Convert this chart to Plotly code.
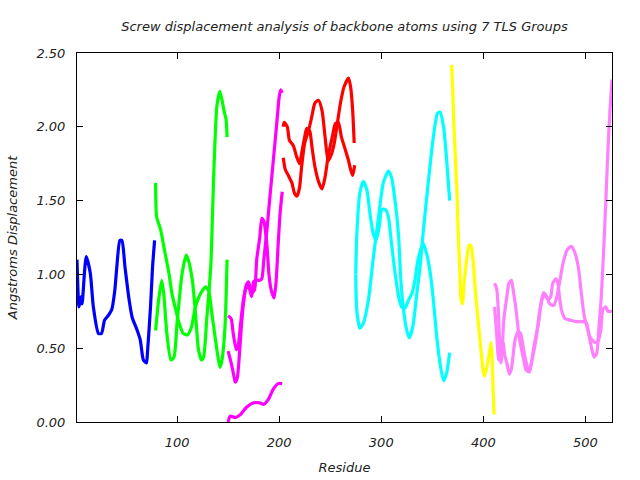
"""
Screw displacement plot - backbone atoms, 7 TLS groups.
Gnuplot-like look rebuilt with Plotly.
"""

import plotly.graph_objects as go

# Palette (gnuplot default line colours)
COLORS = {
    'g1': '#0000FF',
    'g2': '#00FF00',
    'g3': '#FF00FF',
    'g4': '#FF0000',
    'g5': '#00FFFF',
    'g6': '#FFFF00',
    'g7': '#FF80FF',
}

# --- data: residue number / displacement (A) ---

# TLS group 1
G1_RES = [2, 4, 6, 7, 11, 15, 18, 23, 26, 29, 33, 36, 39, 41, 44, 46, 49, 53,
          56, 61, 64, 67, 70, 71, 74, 76, 78]
G1_VAL = [1.10, 0.78, 0.85, 0.80, 1.12, 1.01, 0.78, 0.60, 0.60, 0.69, 0.725,
          0.76, 0.89, 1.05, 1.23, 1.23, 1.05, 0.83, 0.71, 0.62, 0.555, 0.42,
          0.40, 0.47, 0.78, 1.05, 1.23]

# TLS group 2
G2A_RES = [79, 80, 84, 87, 92, 95, 98, 102, 106, 110, 114, 118, 123, 128, 131,
           134, 139, 142, 144, 147, 149]
G2A_VAL = [1.62, 1.39, 1.30, 1.19, 1.01, 0.87, 0.78, 0.67, 0.60, 0.59, 0.64,
           0.78, 0.87, 0.915, 0.89, 0.74, 0.49, 0.37, 0.42, 0.65, 1.10]
G2B_RES = [79, 82, 85, 87, 90, 94, 97, 100, 105, 109, 111, 115, 118, 121, 124,
           126, 129, 133, 136, 139, 142, 146, 148, 149]
G2B_VAL = [0.62, 0.83, 0.96, 0.87, 0.60, 0.42, 0.44, 0.67, 1.01, 1.13, 1.10,
           0.96, 0.74, 0.49, 0.42, 0.44, 0.69, 1.05, 1.69, 2.14, 2.24, 2.11,
           2.05, 1.93]

# TLS group 3
G3A_RES = [150, 153, 155, 158, 160, 162, 165, 168, 170, 173, 176, 178, 181,
           183, 185, 188, 190, 192, 195, 197, 199, 201, 203]
G3A_VAL = [0.72, 0.70, 0.60, 0.49, 0.52, 0.65, 0.83, 0.93, 0.95, 0.87, 0.90,
           1.10, 1.25, 1.38, 1.36, 1.20, 1.00, 0.90, 0.84, 0.95, 1.20, 1.42,
           1.56]
G3B_RES = [150, 153, 156, 157, 159, 161, 163, 165, 168, 171, 173, 175, 178,
           181, 183, 185, 188, 191, 194, 198, 200, 201.5, 203]
G3B_VAL = [0.48, 0.40, 0.30, 0.27, 0.30, 0.45, 0.65, 0.80, 0.92, 0.90, 0.85,
           0.95, 0.96, 0.96, 0.97, 1.10, 1.30, 1.53, 1.75, 2.05, 2.20, 2.25,
           2.23]
G3C_RES = [150, 152, 157, 162, 168, 175, 181, 185, 190, 194, 199, 203]
G3C_VAL = [0.00, 0.04, 0.03, 0.05, 0.10, 0.13, 0.13, 0.12, 0.16, 0.22, 0.26,
           0.26]

# TLS group 4
G4A_RES = [204, 205, 208, 210, 214, 217, 220, 222, 225, 227, 230, 232, 235,
           239, 242, 245, 248, 252, 255, 258, 261, 265, 268, 270, 272, 274]
G4A_VAL = [2.00, 2.03, 2.00, 1.91, 1.87, 1.80, 1.75, 1.82, 1.93, 1.99, 1.97,
           1.87, 1.73, 1.62, 1.58, 1.66, 1.80, 1.93, 2.02, 2.03, 1.93, 1.84,
           1.77, 1.71, 1.67, 1.74]
G4B_RES = [204, 206, 209, 212.5, 215, 217.5, 220, 222, 225, 229, 232, 235,
           238.5, 242, 245, 248, 251.5, 254, 256.5, 260, 263.5, 268, 270,
           272, 273.5]
G4B_VAL = [1.79, 1.71, 1.67, 1.62, 1.55, 1.53, 1.59, 1.73, 1.89, 1.98, 2.07,
           2.16, 2.18, 2.11, 1.93, 1.77, 1.82, 1.89, 2.00, 2.16, 2.27, 2.33,
           2.27, 2.11, 1.89]

# TLS group 5
G5A_RES = [275, 276, 279, 282.5, 286, 289, 292, 295, 298, 300.5, 304, 307,
           310, 313.5, 317, 320, 323, 327, 330, 333, 336, 341, 344.5, 348,
           351, 354, 357.5, 361, 364, 367]
G5A_VAL = [1.00, 1.26, 1.55, 1.63, 1.57, 1.41, 1.28, 1.23, 1.32, 1.44, 1.44,
           1.39, 1.21, 1.01, 0.85, 0.78, 0.77, 0.83, 0.87, 0.96, 1.10, 1.21,
           1.14, 1.01, 0.83, 0.60, 0.40, 0.28, 0.33, 0.47]
G5B_RES = [275, 276, 279, 282.5, 287.5, 292, 297, 302, 307, 310, 313.5, 317,
           319, 321.5, 325, 327.5, 331, 334.5, 338, 341, 346, 351, 355, 357.5,
           361, 364, 367]
G5B_VAL = [1.00, 0.76, 0.635, 0.67, 0.83, 1.10, 1.37, 1.62, 1.70, 1.66, 1.50,
           1.26, 0.98, 0.78, 0.62, 0.57, 0.65, 0.85, 1.05, 1.28, 1.62, 1.93,
           2.09, 2.10, 2.00, 1.78, 1.50]

# TLS group 6
G6_RES = [369, 370, 371, 372.5, 374, 375, 376, 377, 378, 379.5, 381, 383.5,
          386, 388, 390, 392.5, 395, 397.5, 399.5, 401, 403, 405.5, 407.5,
          408.5, 409.5, 410.5]
G6_VAL = [2.42, 2.26, 2.03, 1.81, 1.58, 1.36, 1.18, 1.02, 0.84, 0.80, 0.93,
          1.09, 1.20, 1.19, 1.09, 0.86, 0.68, 0.50, 0.36, 0.31, 0.36, 0.45,
          0.54, 0.45, 0.23, 0.05]

# TLS group 7
G7A_RES = [411, 413, 414.5, 415.5, 416.5, 417.5, 418.5, 420, 423, 425, 427.5,
           429, 432, 435, 439, 442, 445, 447, 450, 454, 457, 459, 462, 465,
           469, 472, 475, 478, 482, 486, 489.5, 493, 496, 499, 502.5, 506,
           508.5, 511, 513, 515.5, 518, 520, 522, 524, 526]
G7A_VAL = [0.94, 0.905, 0.78, 0.62, 0.44, 0.40, 0.49, 0.69, 0.85, 0.94, 0.96,
           0.905, 0.76, 0.58, 0.44, 0.35, 0.34, 0.40, 0.53, 0.67, 0.83, 0.875,
           0.85, 0.80, 0.79, 0.85, 0.96, 1.075, 1.165, 1.19, 1.15, 1.05, 0.87,
           0.71, 0.62, 0.50, 0.44, 0.465, 0.62, 0.85, 1.19, 1.50, 1.84, 2.11,
           2.32]
G7B_RES = [411, 413, 415, 416.5, 418, 419.5, 421, 423, 425.5, 427.5, 431, 434,
           436.5, 439, 442, 445, 449, 452, 455, 458, 460, 463.5, 466, 468,
           471, 473, 474.5, 476.5, 480, 485, 491, 498, 501, 504, 509, 512,
           515, 517, 520, 522, 526]
G7B_VAL = [0.78, 0.60, 0.42, 0.45, 0.555, 0.53, 0.45, 0.40, 0.325, 0.36,
           0.555, 0.61, 0.60, 0.51, 0.40, 0.34, 0.465, 0.58, 0.74, 0.84, 0.86,
           0.83, 0.85, 0.94, 0.97, 0.94, 0.85, 0.76, 0.70, 0.69, 0.68, 0.68,
           0.67, 0.58, 0.54, 0.54, 0.62, 0.76, 0.78, 0.75, 0.75]

TITLE = 'Screw displacement analysis of backbone atoms using 7 TLS Groups'
X_TITLE = 'Residue'
Y_TITLE = 'Angstroms Displacement'

SERIES = [
    ('g1', G1_RES, G1_VAL),
    ('g2', G2A_RES, G2A_VAL),
    ('g2', G2B_RES, G2B_VAL),
    ('g3', G3A_RES, G3A_VAL),
    ('g3', G3B_RES, G3B_VAL),
    ('g3', G3C_RES, G3C_VAL),
    ('g4', G4A_RES, G4A_VAL),
    ('g4', G4B_RES, G4B_VAL),
    ('g5', G5A_RES, G5A_VAL),
    ('g5', G5B_RES, G5B_VAL),
    ('g6', G6_RES, G6_VAL),
    ('g7', G7A_RES, G7A_VAL),
    ('g7', G7B_RES, G7B_VAL),
]

FONT = 'DejaVu Sans'
TEXT_COLOR = '#222222'

fig = go.Figure()

for key, res, val in SERIES:
    fig.add_trace(go.Scatter(
        x=res,
        y=val,
        mode='lines',
        line=dict(color=COLORS[key], width=3.2, shape='spline', smoothing=0.6),
        showlegend=False,
        hovertemplate='res %{x}<br>%{y:.2f} A<extra></extra>'
    ))

axis_common = dict(
    showgrid=False,
    zeroline=False,
    showline=True,
    linecolor='black',
    linewidth=1,
    mirror='ticks',
    ticks='inside',
    ticklen=6,
    tickcolor='black',
    automargin=False,
    tickfont=dict(family=FONT, size=13, color=TEXT_COLOR, style='italic'),
)

fig.update_layout(
    width=640,
    height=480,
    plot_bgcolor='white',
    paper_bgcolor='white',
    margin=dict(l=77, r=28, t=53, b=58),
    title=dict(
        text=TITLE,
        font=dict(family=FONT, size=13, color=TEXT_COLOR, style='italic'),
        x=0.5, xref='paper', xanchor='center',
        y=1 - 26 / 480, yref='container', yanchor='middle',
    ),
    xaxis=dict(
        **axis_common,
        range=[2, 526],
        tickvals=[100, 200, 300, 400, 500],
        ticklabelstandoff=8,
        title=dict(text=X_TITLE, standoff=14,
                   font=dict(family=FONT, size=13, color=TEXT_COLOR, style='italic')),
    ),
    yaxis=dict(
        **axis_common,
        range=[0, 2.5],
        tickvals=[0, 0.5, 1.0, 1.5, 2.0, 2.5],
        tickformat='.2f',
        ticklabelstandoff=8,
        title=dict(text=Y_TITLE, standoff=15,
                   font=dict(family=FONT, size=13, color=TEXT_COLOR, style='italic')),
    ),
)

# page body has a default 8px margin; drop it so the figure sits at (0, 0)
fig.write_html('out.html', config={'displayModeBar': False},
               post_script="document.body.style.margin='0';")
